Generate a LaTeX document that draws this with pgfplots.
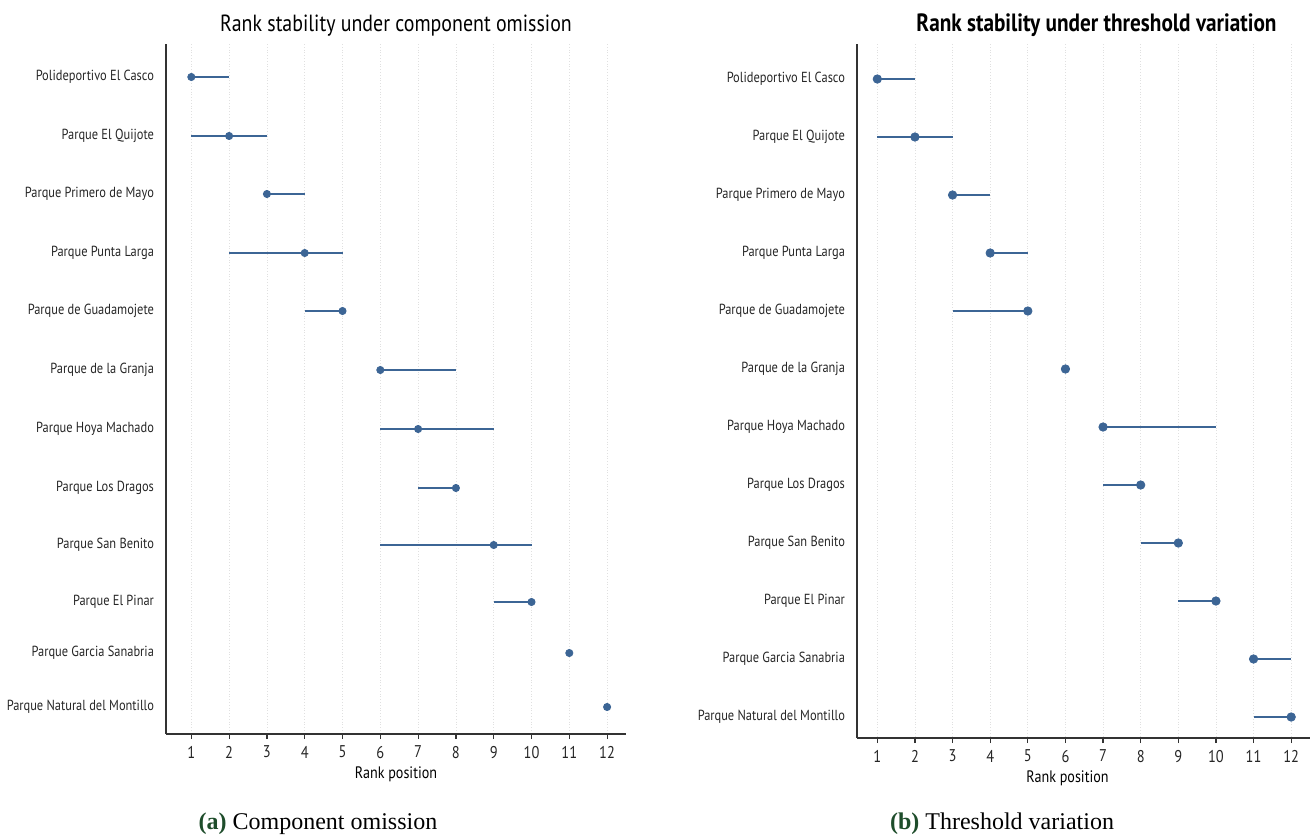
\documentclass[border=0pt]{standalone}
\usepackage{pgfplots}
\pgfplotsset{compat=1.18}
\usepackage{pgfplotstable}
\usepackage{fontspec}
\setmainfont{PT Sans}[FakeStretch=0.85]
\newfontfamily\capfont{Liberation Serif}
\definecolor{dotblue}{HTML}{3C6595}
\definecolor{capgreen}{HTML}{1E4D2B}
\definecolor{axisgray}{HTML}{333333}

% rank, lowest rank, highest rank, row position
\pgfplotstableread{
r lo hi y
1 1 2 77
2 1 3 136
3 3 4 194
4 2 5 253
5 4 5 311
6 6 8 370
7 6 9 429
8 7 8 488
9 6 10 545
10 9 10 602
11 11 11 653
12 12 12 707
}\tabA

\pgfplotstableread{
r lo hi y
1 1 2 79
2 1 3 137
3 3 4 195
4 4 5 253
5 3 5 311
6 6 6 369
7 7 10 427
8 7 8 485
9 8 9 543
10 9 10 601
11 11 12 659
12 11 12 717
}\tabB

\pgfplotsset{rankstyle/.style={
  scale only axis, y dir=reverse, clip=false,
  axis x line*=bottom, axis y line*=left,
  axis line style={axisgray, line width=0.8pt},
  xtick={1,...,12}, tick align=outside, major tick length=2.5pt,
  xtick style={axisgray, line width=0.6pt},
  ytick style={draw=none},
  xmajorgrids, grid style={densely dotted, black!12, line width=0.4pt},
  xticklabel style={font=\fontsize{8.5}{9}\selectfont, text=black!85},
  yticklabel style={font=\fontsize{7.3}{8}\selectfont, text=black!85, xshift=0pt},
  /pgf/number format/assume math mode=true,
  xlabel={Rank position},
  xlabel style={font=\fontsize{8.3}{9}\selectfont, at={(axis description cs:0.5,0)}, anchor=base, yshift=-22pt},
  title style={at={(axis description cs:0.5,1)}, anchor=base, yshift=0.5pt, font=\fontsize{11.7}{13}\selectfont},
  yticklabels={Polideportivo El Casco, Parque El Quijote, Parque Primero de Mayo, Parque Punta Larga, Parque de Guadamojete, Parque de la Granja, Parque Hoya Machado, Parque Los Dragos, Parque San Benito, Parque El Pinar, Parque Garcia Sanabria, Parque Natural del Montillo},
}}

\begin{document}
\begin{tikzpicture}
\useasboundingbox (0,0) rectangle (656pt,418pt);
\begin{axis}[rankstyle, at={(83pt,51pt)}, anchor=south west, width=230pt, height=345pt,
  xmin=0.33, xmax=12.5, ymin=44, ymax=734,
  ytick={77,136,194,253,311,370,429,488,545,602,653,707},
  title={Rank stability under component omission}]
\addplot[only marks, mark=*, mark size=1.8pt, color=dotblue,
  error bars/.cd, x dir=both, x explicit, error mark=none,
  error bar style={line width=0.65pt, dotblue}]
  table[x=r, y=y, x error plus expr=\thisrow{hi}-\thisrow{r}, x error minus expr=\thisrow{r}-\thisrow{lo}] {\tabA};
\end{axis}
\begin{axis}[rankstyle, at={(428.5pt,49pt)}, anchor=south west, width=226.5pt, height=347pt,
  xmin=0.46, xmax=12.5, ymin=44, ymax=738,
  ytick={79,137,195,253,311,369,427,485,543,601,659,717},
  xlabel style={xshift=-8pt},
  title style={xshift=6.5pt, font=\fontsize{12.5}{14}\selectfont\bfseries},
  title={Rank stability under threshold variation}]
\addplot[only marks, mark=*, mark size=2.1pt, color=dotblue,
  error bars/.cd, x dir=both, x explicit, error mark=none,
  error bar style={line width=1pt, dotblue}]
  table[x=r, y=y, x error plus expr=\thisrow{hi}-\thisrow{r}, x error minus expr=\thisrow{r}-\thisrow{lo}] {\tabB};
\end{axis}
\node[anchor=base, font=\capfont\fontsize{12}{14}\selectfont] at (159pt,3.5pt) {\textcolor{capgreen}{\textbf{(a)}} Component omission};
\node[anchor=base, font=\capfont\fontsize{12}{14}\selectfont] at (501pt,3.5pt) {\textcolor{capgreen}{\textbf{(b)}} Threshold variation};
\end{tikzpicture}
\end{document}
